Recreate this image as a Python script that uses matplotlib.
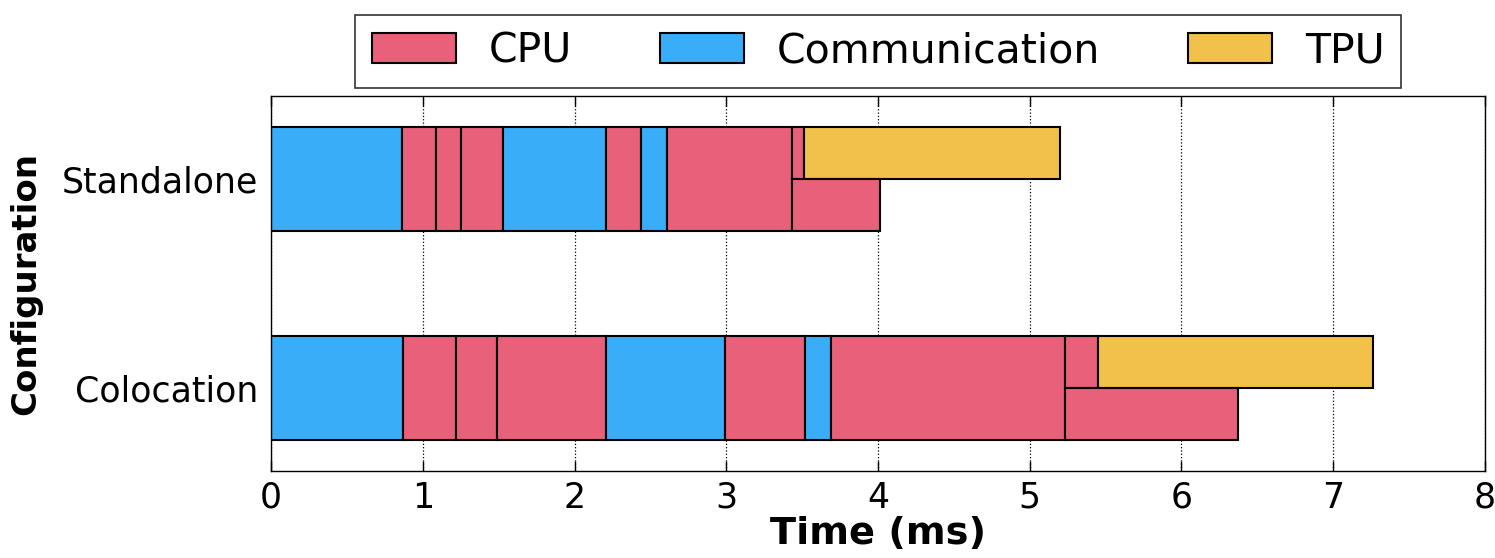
import matplotlib
matplotlib.use("Agg")
import matplotlib.pyplot as plt
from matplotlib.patches import Patch

# Timeline segments per configuration: (start, end) in ms and the resource used.
# A lane of "full" spans the whole bar; "upper"/"lower" split the bar in two.
configs = ["Colocation", "Standalone"]

standalone_start = [0.00, 0.86, 1.09, 1.25, 1.53, 2.21, 2.44, 2.61, 3.43, 3.51, 3.43]
standalone_end   = [0.86, 1.09, 1.25, 1.53, 2.21, 2.44, 2.61, 3.43, 3.51, 5.20, 4.01]
standalone_kind  = ["Communication", "CPU", "CPU", "CPU", "Communication", "CPU",
                    "Communication", "CPU", "CPU", "TPU", "CPU"]
standalone_lane  = ["full"] * 8 + ["upper", "upper", "lower"]

colocation_start = [0.00, 0.87, 1.22, 1.49, 2.21, 2.99, 3.52, 3.69, 5.23, 5.45, 5.23]
colocation_end   = [0.87, 1.22, 1.49, 2.21, 2.99, 3.52, 3.69, 5.23, 5.45, 7.26, 6.37]
colocation_kind  = ["Communication", "CPU", "CPU", "CPU", "Communication", "CPU",
                    "Communication", "CPU", "CPU", "TPU", "CPU"]
colocation_lane  = ["full"] * 8 + ["upper", "upper", "lower"]

resources = ["CPU", "Communication", "TPU"]
colors = {"CPU": "#E9607A", "Communication": "#3AADF8", "TPU": "#F2C14A"}

fig = plt.figure(figsize=(14.95, 5.58), dpi=100)
ax = fig.add_axes([0.1813, 0.156, 0.812, 0.672])

bar_h = 0.5
series = {
    "Colocation": (colocation_start, colocation_end, colocation_kind, colocation_lane),
    "Standalone": (standalone_start, standalone_end, standalone_kind, standalone_lane),
}
for yi, name in enumerate(configs):
    starts, ends, kinds, lanes = series[name]
    for s, e, k, lane in zip(starts, ends, kinds, lanes):
        if lane == "full":
            y, h = yi, bar_h
        elif lane == "upper":
            y, h = yi + bar_h / 4, bar_h / 2
        else:
            y, h = yi - bar_h / 4, bar_h / 2
        ax.barh(y, e - s, left=s, height=h, color=colors[k],
                edgecolor="black", linewidth=1.5, zorder=2)

ax.set_xlim(0, 8)
ax.set_ylim(-0.4, 1.4)
ax.set_yticks(range(len(configs)))
ax.set_yticklabels(configs, fontsize=25)
ax.set_xticks(range(0, 9))
ax.tick_params(axis="x", labelsize=25, direction="in", top=True, length=7, width=1,
               pad=7)
ax.tick_params(axis="y", length=0, pad=9)
ax.xaxis.grid(True, linestyle=":", color="black", linewidth=0.9, zorder=0)
ax.set_axisbelow(True)
for sp in ax.spines.values():
    sp.set_linewidth(1.0)

ax.set_xlabel("Time (ms)", fontsize=27.5, fontweight="bold", labelpad=1)
ax.set_ylabel("Configuration", fontsize=24.5, fontweight="bold", labelpad=14)

handles = [Patch(facecolor=colors[r], edgecolor="black", linewidth=1.5, label=r)
           for r in resources]
leg = ax.legend(handles=handles, loc="lower center", bbox_to_anchor=(0.5, 1.022),
                ncol=3, fontsize=29.5, frameon=True, fancybox=False,
                edgecolor="black", handlelength=2.05, handleheight=0.78,
                handletextpad=0.8, columnspacing=2.15, borderpad=0.4,
                borderaxespad=0.0)
leg.get_frame().set_linewidth(1.2)

fig.savefig("out.png", dpi=100)
